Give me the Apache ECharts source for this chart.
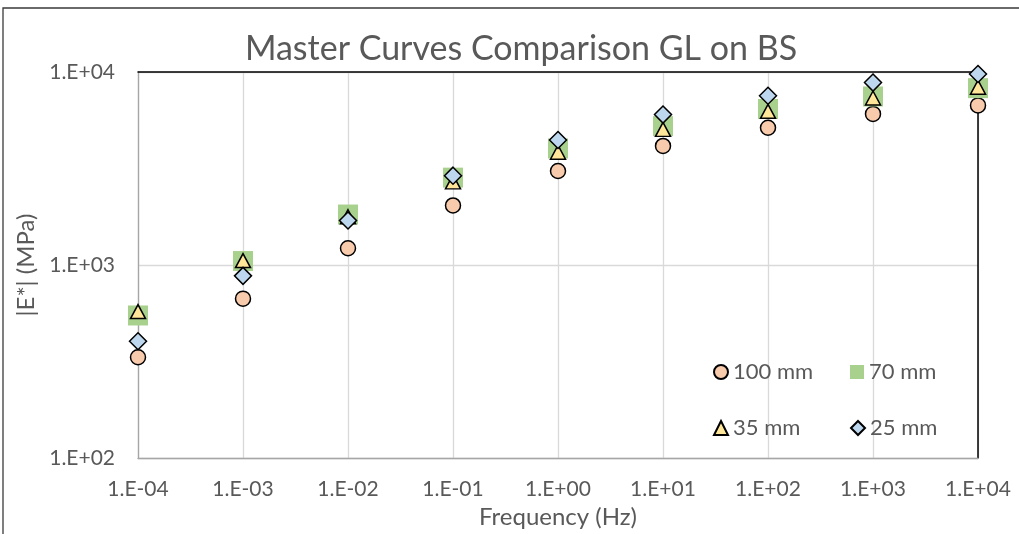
<!DOCTYPE html>
<html>
<head>
<meta charset="utf-8">
<script src="https://cdn.jsdelivr.net/npm/echarts@6/dist/echarts.min.js"></script>
<style>
  html, body { margin: 0; padding: 0; background: #ffffff; }
  #chart { width: 1019px; height: 534px; }
</style>
</head>
<body>
<div id="chart"></div>
<script>
// Frequencies (Hz), one per decade
const frequencies = [1e-4, 1e-3, 1e-2, 1e-1, 1e0, 1e1, 1e2, 1e3, 1e4];

// |E*| master curve values (MPa) per specimen diameter
const mm100 = [333, 670, 1222, 2037, 3070, 4140, 5143, 6067, 6715];
const mm70  = [548, 1049, 1827, 2837, 4015, 5243, 6437, 7468, 8248];
const mm35  = [574, 1055, 1780, 2697, 3843, 5043, 6257, 7330, 8346];
const mm25  = [403, 879, 1701, 2904, 4443, 6018, 7532, 8813, 9765];

const seriesNames = ['100 mm', '70 mm', '35 mm', '25 mm'];
const titleText = 'Master Curves Comparison GL on BS';
const xTitle = 'Frequency (Hz)';
const yTitle = '|E*| (MPa)';

const FONT = 'Lato, "Noto Sans", sans-serif';
const TEXT = '#595959';

// 1e-4 -> "1.E-04", 1e3 -> "1.E+03"
function sci(v) {
  const e = Math.round(Math.log10(v));
  const sign = e < 0 ? '-' : '+';
  const d = String(Math.abs(e)).padStart(2, '0');
  return '1.E' + sign + d;
}

function pairs(vals) {
  return frequencies.map((f, i) => [f, vals[i]]);
}

const chart = echarts.init(document.getElementById('chart'), null, { renderer: 'canvas' });

const legendBase = {
  orient: 'horizontal',
  itemWidth: 14,
  itemHeight: 14,
  textStyle: { color: TEXT, fontSize: 22, fontFamily: FONT },
  selectedMode: false
};

chart.setOption({
  animation: false,
  backgroundColor: '#ffffff',
  title: {
    text: titleText,
    left: 516,
    textAlign: 'center',
    top: 27,
    textStyle: { color: TEXT, fontSize: 34, fontWeight: 'normal', fontFamily: FONT }
  },
  graphic: [{
    type: 'rect',
    shape: { x: 3, y: 8, width: 1040, height: 560 },
    style: { fill: 'none', stroke: '#3a3a3a', lineWidth: 1.3 },
    silent: true, z: -1
  }],
  legend: [
    Object.assign({}, legendBase, { data: [seriesNames[0]], left: 708, top: 356 }),
    Object.assign({}, legendBase, { data: [seriesNames[1]], left: 845, top: 356 }),
    Object.assign({}, legendBase, { data: [seriesNames[2]], left: 708, top: 412 }),
    Object.assign({}, legendBase, { data: [seriesNames[3]], left: 845, top: 412 })
  ],
  grid: { left: 138, right: 41, top: 72, bottom: 72, containLabel: false },
  xAxis: [{
    type: 'log', logBase: 10, min: 1e-4, max: 1e4,
    name: xTitle, nameLocation: 'middle', nameGap: 44,
    nameTextStyle: { color: TEXT, fontSize: 24, fontFamily: FONT },
    axisLine: { show: true, lineStyle: { color: '#a6a6a6', width: 1.3 } },
    axisTick: { show: false },
    axisLabel: { formatter: sci, color: TEXT, fontSize: 21, fontFamily: FONT, margin: 21 },
    splitLine: { show: true, lineStyle: { color: '#d9d9d9', width: 1.3 } },
    minorTick: { show: false }, minorSplitLine: { show: false }
  }, {
    type: 'log', logBase: 10, min: 1e-4, max: 1e4, position: 'top',
    axisLine: { show: true, onZero: false, lineStyle: { color: '#000000', width: 1.5 } },
    axisTick: { show: false }, axisLabel: { show: false }, splitLine: { show: false }
  }],
  yAxis: [{
    type: 'log', logBase: 10, min: 100, max: 10000,
    name: yTitle, nameLocation: 'middle', nameGap: 88, nameRotate: 90,
    nameTextStyle: { color: TEXT, fontSize: 24, fontFamily: FONT },
    axisLine: { show: true, lineStyle: { color: '#a6a6a6', width: 1.3 } },
    axisTick: { show: false },
    axisLabel: { formatter: sci, color: TEXT, fontSize: 21, fontFamily: FONT, margin: 23 },
    splitLine: { show: true, lineStyle: { color: '#d9d9d9', width: 1.3 } }
  }, {
    type: 'log', logBase: 10, min: 100, max: 10000, position: 'right',
    axisLine: { show: true, onZero: false, lineStyle: { color: '#000000', width: 1.5 } },
    axisTick: { show: false }, axisLabel: { show: false }, splitLine: { show: false }
  }],
  series: [
    {
      name: seriesNames[0], type: 'scatter', data: pairs(mm100),
      symbol: 'circle', symbolSize: 15, z: 2,
      itemStyle: { color: '#F8CBAD', borderColor: '#000000', borderWidth: 1.5, opacity: 1 }
    },
    {
      name: seriesNames[1], type: 'scatter', data: pairs(mm70),
      symbol: 'rect', symbolSize: 20, z: 3,
      itemStyle: { color: '#A9D18E', opacity: 1 }
    },
    {
      name: seriesNames[2], type: 'scatter', data: pairs(mm35),
      symbol: 'triangle', symbolSize: [15, 14], z: 4,
      itemStyle: { color: '#FFE699', borderColor: '#000000', borderWidth: 1.5, opacity: 1 }
    },
    {
      name: seriesNames[3], type: 'scatter', data: pairs(mm25),
      symbol: 'diamond', symbolSize: [17, 17], z: 5,
      itemStyle: { color: '#BDD7EE', borderColor: '#000000', borderWidth: 1.5, opacity: 1 }
    }
  ]
});
</script>
</body>
</html>
